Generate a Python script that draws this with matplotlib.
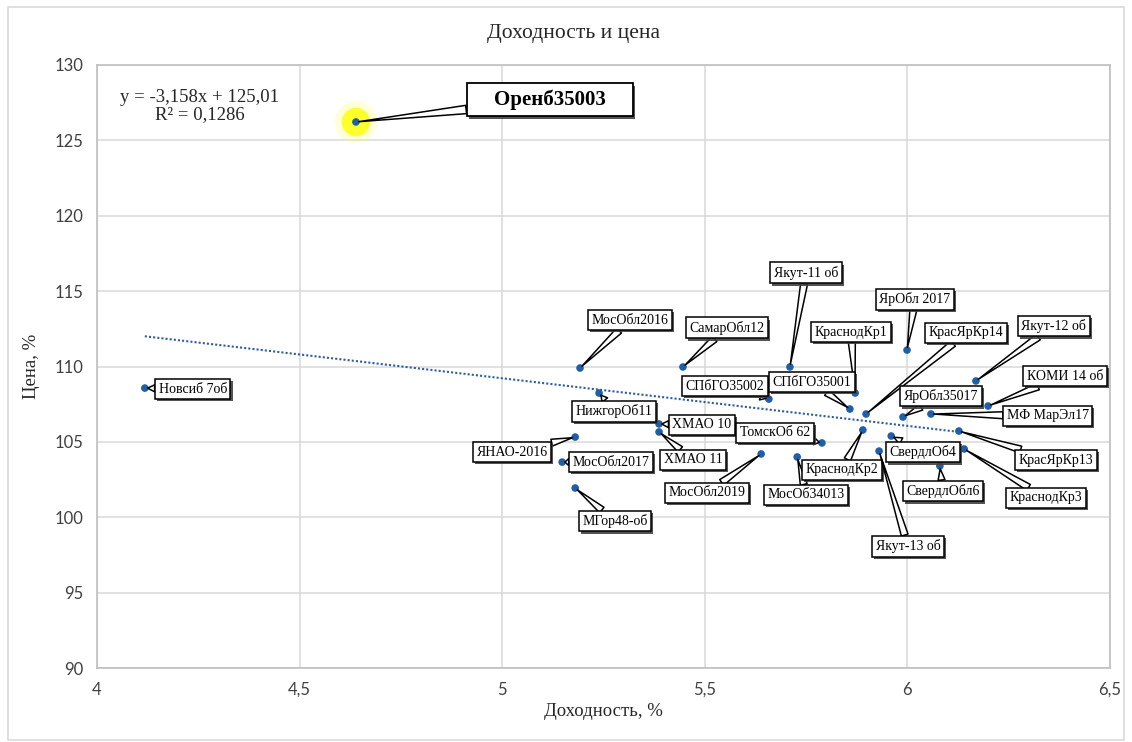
import matplotlib.pyplot as plt
import matplotlib.patheffects as pe
from matplotlib.patches import Rectangle

# bond names, yield (%) and price (%)
names = ['Оренб35003', 'Новсиб 7об', 'МосОбл2016', 'СамарОбл12', 'Якут-11 об',
         'СПбГО35002', 'НижгорОб11', 'ХМАО 10', 'ХМАО 11', 'ЯНАО-2016',
         'МосОбл2017', 'МГор48-об', 'МосОбл2019', 'МосОб34013', 'ТомскОб 62',
         'КраснодКр1', 'СПбГО35001', 'КрасЯрКр14', 'ЯрОбл 2017', 'Якут-12 об',
         'КОМИ 14 об', 'ЯрОбл35017', 'МФ МарЭл17', 'КрасЯрКр13', 'КраснодКр2',
         'СвердлОб4', 'Якут-13 об', 'КраснодКр3', 'СвердлОбл6']
yields = [4.639, 4.118, 5.192, 5.446, 5.710,
          5.658, 5.239, 5.387, 5.387, 5.180,
          5.148, 5.180, 5.639, 5.728, 5.789,
          5.871, 5.858, 5.898, 5.999, 6.169,
          6.199, 5.989, 6.058, 6.127, 5.890,
          5.960, 5.930, 6.140, 6.080]
prices = [126.22, 108.57, 109.90, 109.97, 109.97,
          107.84, 108.24, 106.19, 105.66, 105.32,
          103.66, 101.94, 104.20, 104.00, 104.93,
          108.24, 107.18, 106.85, 111.09, 109.04,
          107.38, 106.65, 106.85, 105.72, 105.79,
          105.39, 104.39, 104.53, 103.40]

# linear trend as printed on the chart
slope, intercept, r2 = -3.158, 125.01, 0.1286
trend_x = [4.118, 6.127]

xticks = [4, 4.5, 5, 5.5, 6, 6.5]
yticks = [90, 95, 100, 105, 110, 115, 120, 125, 130]

# callout offsets (pixels) from each point to the centre of its label
offsets = {
    'Оренб35003': (194, 22), 'Новсиб 7об': (48, -1), 'МосОбл2016': (50, 48),
    'СамарОбл12': (44, 39), 'Якут-11 об': (16, 94), 'СПбГО35002': (-44, 13),
    'НижгорОб11': (15, -18), 'ХМАО 10': (43, -1), 'ХМАО 11': (34, -28),
    'ЯНАО-2016': (-63, -15), 'МосОбл2017': (49, 0), 'МГор48-об': (40, -33),
    'МосОбл2019': (-54, -39), 'МосОб34013': (9, -38), 'ТомскОб 62': (-47, 10),
    'КраснодКр1': (-4, 61), 'СПбГО35001': (-38, 27), 'КрасЯрКр14': (100, 81),
    'ЯрОбл 2017': (8, 51), 'Якут-12 об': (78, 55), 'КОМИ 14 об': (77, 30),
    'ЯрОбл35017': (38, 21), 'МФ МарЭл17': (117, -2), 'КрасЯрКр13': (97, -29),
    'КраснодКр2': (-21, -40), 'СвердлОб4': (32, -16), 'Якут-13 об': (29, -95),
    'КраснодКр3': (82, -49), 'СвердлОбл6': (3, -25),
}

serif = 'Liberation Serif'
sans = 'Lato'

fig = plt.figure(figsize=(11.32, 7.42), dpi=100)
fig.patches.append(Rectangle((0.007, 0.003), 0.986, 0.988, transform=fig.transFigure,
                             fill=False, ec='#d9d9d9', lw=1.2))
ax = fig.add_axes([0.0857, 0.0997, 0.8949, 0.8127])

ax.set_xlim(4, 6.5)
ax.set_ylim(90, 130)
ax.set_xticks(xticks)
ax.set_yticks(yticks)
ax.set_xticklabels([str(t).replace('.', ',') for t in xticks], fontfamily=sans, fontsize=12, color='#404040')
ax.set_yticklabels([str(t) for t in yticks], fontfamily=sans, fontsize=12, color='#404040')
ax.tick_params(length=0, pad=10)
ax.grid(True, color='#d9d9d9', lw=1.1)
ax.set_axisbelow(True)
for s in ax.spines.values():
    s.set_color('#bfbfbf')
    s.set_linewidth(1.2)

# highlight of the outlier
ax.scatter([yields[0]], [prices[0]], s=900, color='#ffff66', alpha=0.25, zorder=2, edgecolors='none')
ax.scatter([yields[0]], [prices[0]], s=420, color='#ffff00', alpha=0.8, zorder=2, edgecolors='none')

ax.plot(trend_x, [slope * x + intercept for x in trend_x], ls=(0, (1, 1)), color='#2e5e9e', lw=1.5, zorder=3)
ax.scatter(yields, prices, s=30, color='#1f5fa8', zorder=4, edgecolors='none')

shadow = [pe.SimplePatchShadow(offset=(1.5, -1.5), shadow_rgbFace='#404040', alpha=0.9), pe.Normal()]
for name, x, y in zip(names, yields, prices):
    dx, dy = offsets[name]
    big = name == 'Оренб35003'
    label = '    ' + name + '    ' if big else name
    ann = ax.annotate(label, (x, y), xytext=(dx, dy), textcoords='offset pixels',
                      ha='center', va='center', fontfamily=serif,
                      fontsize=15 if big else 10, fontweight='bold' if big else 'normal',
                      bbox=dict(boxstyle='square,pad=0.3' if big else 'square,pad=0.25',
                                fc='white', ec='black', lw=1.3 if big else 1.1),
                      arrowprops=dict(arrowstyle='wedge,tail_width=0.5' if not big else 'wedge,tail_width=0.4',
                                      fc='white', ec='black', lw=1.1, shrinkA=0, shrinkB=2),
                      zorder=5)
    ann.get_bbox_patch().set_path_effects(shadow)

ax.text(0.101, 0.932, 'y = -3,158x + 125,01\nR² = 0,1286', transform=ax.transAxes,
        ha='center', va='center', fontfamily=serif, fontsize=13.5, color='#262626', linespacing=1.05)

fig.text(0.507, 0.955, 'Доходность и цена', ha='center', va='center', fontfamily=serif, fontsize=15.5, color='#262626')
ax.set_xlabel('Доходность, %', fontfamily=serif, fontsize=13.5, color='#262626', labelpad=4)
ax.set_ylabel('Цена, %', fontfamily=serif, fontsize=13.5, color='#262626', labelpad=10)

fig.savefig('out.png', dpi=100)
